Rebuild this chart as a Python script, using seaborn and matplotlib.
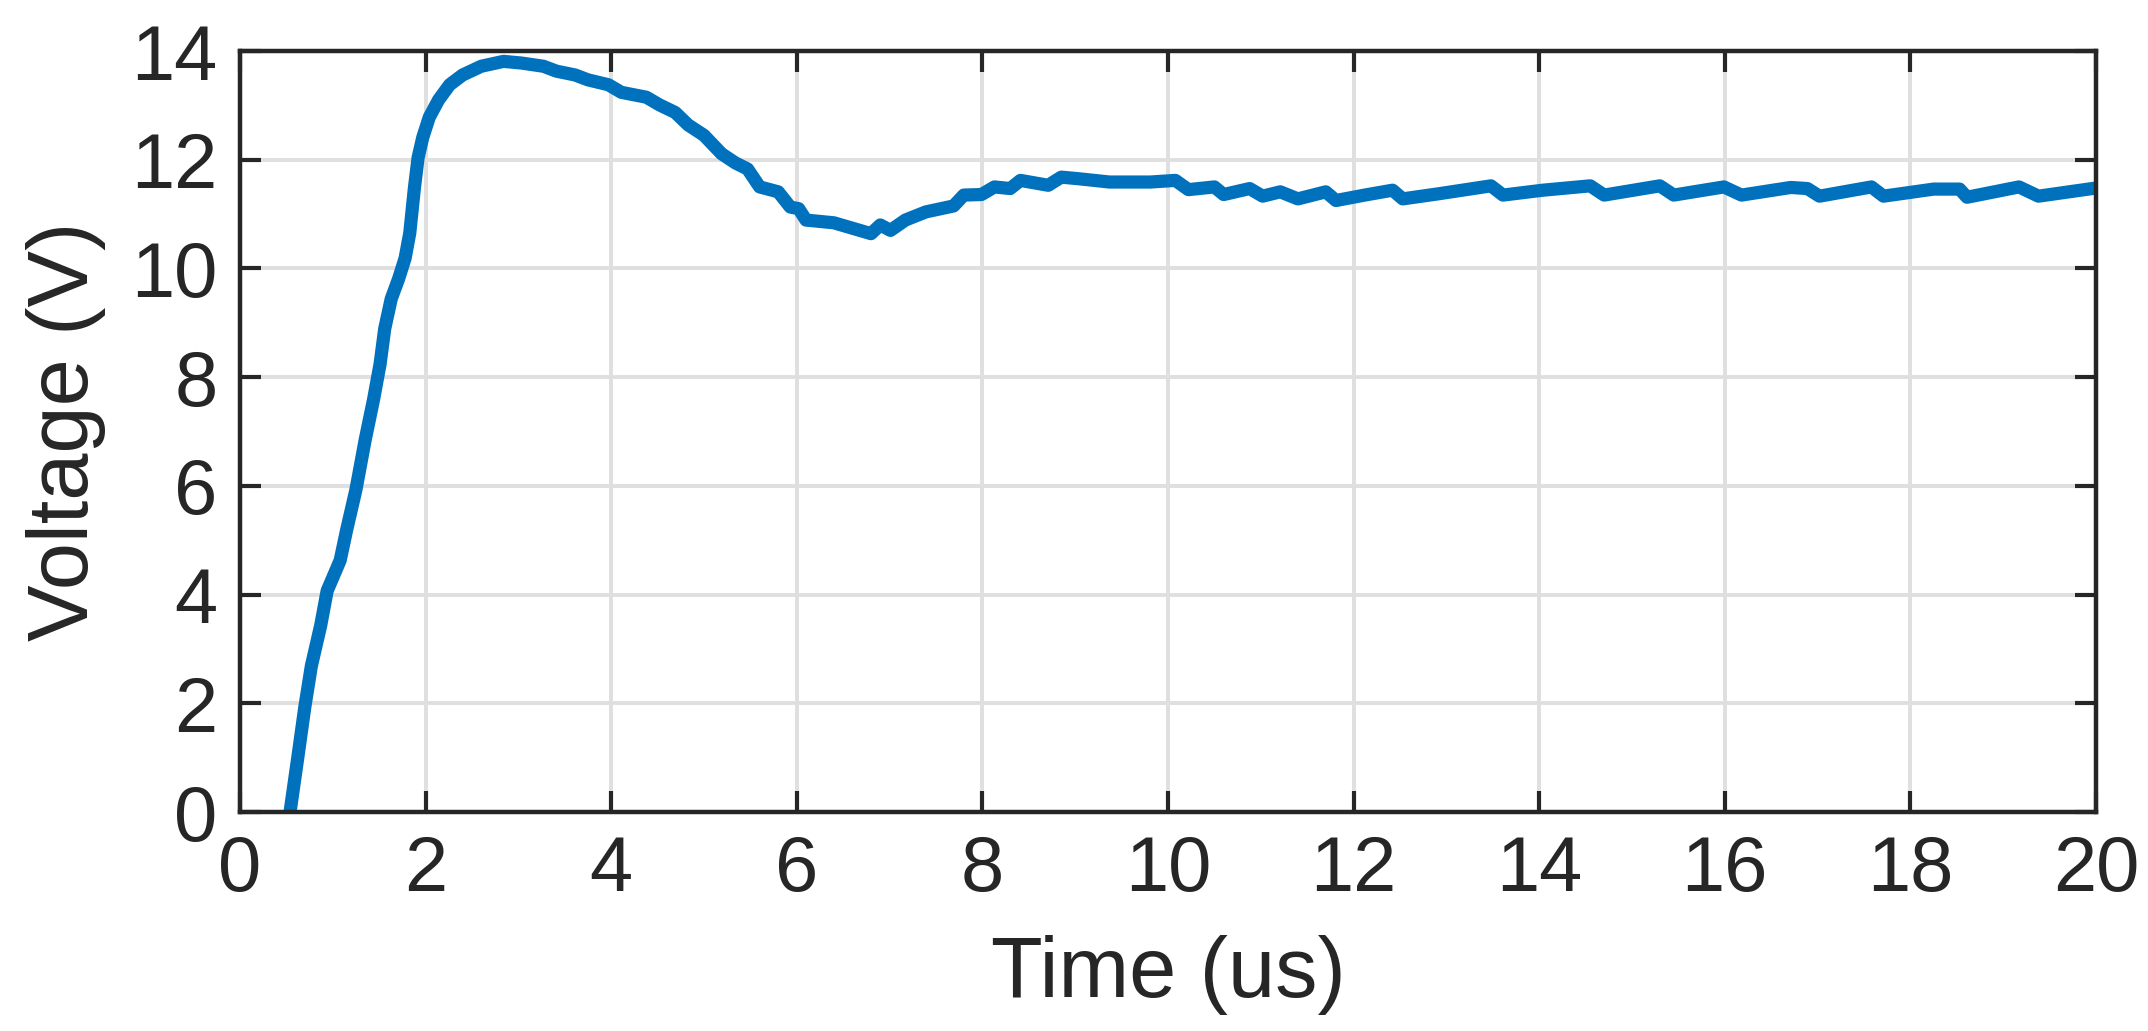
import matplotlib
matplotlib.use("Agg")
import matplotlib.pyplot as plt
import seaborn as sns
import pandas as pd

# values
time_us = [0.54, 0.625, 0.70, 0.77, 0.87, 0.94, 1.01, 1.08, 1.15, 1.25, 1.35, 1.44,
           1.51, 1.56, 1.63, 1.71, 1.78, 1.83, 1.88, 1.92, 1.97, 2.04, 2.14, 2.26,
           2.40, 2.60, 2.84, 3.03, 3.27, 3.41, 3.61, 3.75, 3.97, 4.11, 4.38, 4.52,
           4.69, 4.83, 5.00, 5.19, 5.34, 5.47, 5.60, 5.80, 5.93, 6.02, 6.10, 6.40,
           6.62, 6.80, 6.90, 7.01, 7.17, 7.39, 7.69, 7.80, 7.99, 8.13, 8.30, 8.41,
           8.71, 8.85, 9.04, 9.37, 9.81, 10.08, 10.22, 10.50, 10.60, 10.88, 11.02,
           11.21, 11.40, 11.70, 11.81, 12.12, 12.42, 12.53, 12.94, 13.48, 13.61,
           14.04, 14.55, 14.70, 15.30, 15.45, 15.99, 16.18, 16.71, 16.89, 17.02,
           17.58, 17.71, 18.25, 18.53, 18.61, 19.17, 19.38, 20.0]
voltage_v = [0.0, 1.02, 1.94, 2.69, 3.43, 4.07, 4.35, 4.63, 5.19, 5.93, 6.85, 7.59,
             8.24, 8.89, 9.44, 9.81, 10.19, 10.65, 11.48, 12.04, 12.41, 12.78, 13.10, 13.38,
             13.56, 13.72, 13.81, 13.78, 13.72, 13.63, 13.56, 13.47, 13.38, 13.24, 13.15, 13.01,
             12.87, 12.64, 12.45, 12.11, 11.94, 11.83, 11.50, 11.41, 11.13, 11.10, 10.89, 10.84,
             10.73, 10.64, 10.80, 10.70, 10.89, 11.04, 11.15, 11.35, 11.36, 11.50, 11.47, 11.62,
             11.53, 11.68, 11.65, 11.59, 11.59, 11.62, 11.45, 11.50, 11.36, 11.47, 11.33,
             11.41, 11.28, 11.41, 11.25, 11.35, 11.44, 11.28, 11.38, 11.52, 11.35,
             11.44, 11.52, 11.35, 11.52, 11.35, 11.50, 11.35, 11.49, 11.47, 11.33,
             11.50, 11.33, 11.46, 11.46, 11.31, 11.50, 11.33, 11.48]

x_ticks = list(range(0, 21, 2))
y_ticks = list(range(0, 15, 2))

df = pd.DataFrame({"time": time_us, "voltage": voltage_v})

sns.set_style("whitegrid")
plt.rcParams["font.family"] = ["Liberation Sans", "DejaVu Sans"]

dark = "#262626"
fig = plt.figure(figsize=(21.48, 10.31), dpi=100)
ax = fig.add_axes([0.1117, 0.2124, 0.8641, 0.7381])

sns.lineplot(data=df, x="time", y="voltage", ax=ax, color="#0072BD", linewidth=9.5,
             sort=False, solid_joinstyle="round", solid_capstyle="butt")

ax.set_xlim(0, 20)
ax.set_ylim(0, 14)
ax.set_xticks(x_ticks)
ax.set_yticks(y_ticks)
ax.grid(True, color="#DFDFDF", linewidth=2.8)
ax.set_axisbelow(True)
for s in ax.spines.values():
    s.set_visible(True)
    s.set_color(dark)
    s.set_linewidth(3.2)
ax.tick_params(direction="in", length=15, width=3, color=dark, labelcolor=dark,
               labelsize=56, top=True, right=True, bottom=True, left=True, pad=16)
ax.set_xlabel("Time (us)", fontsize=61, color=dark, labelpad=20)
ax.set_ylabel("Voltage (V)", fontsize=61, color=dark, labelpad=18)

plt.savefig("out.png", dpi=100)
